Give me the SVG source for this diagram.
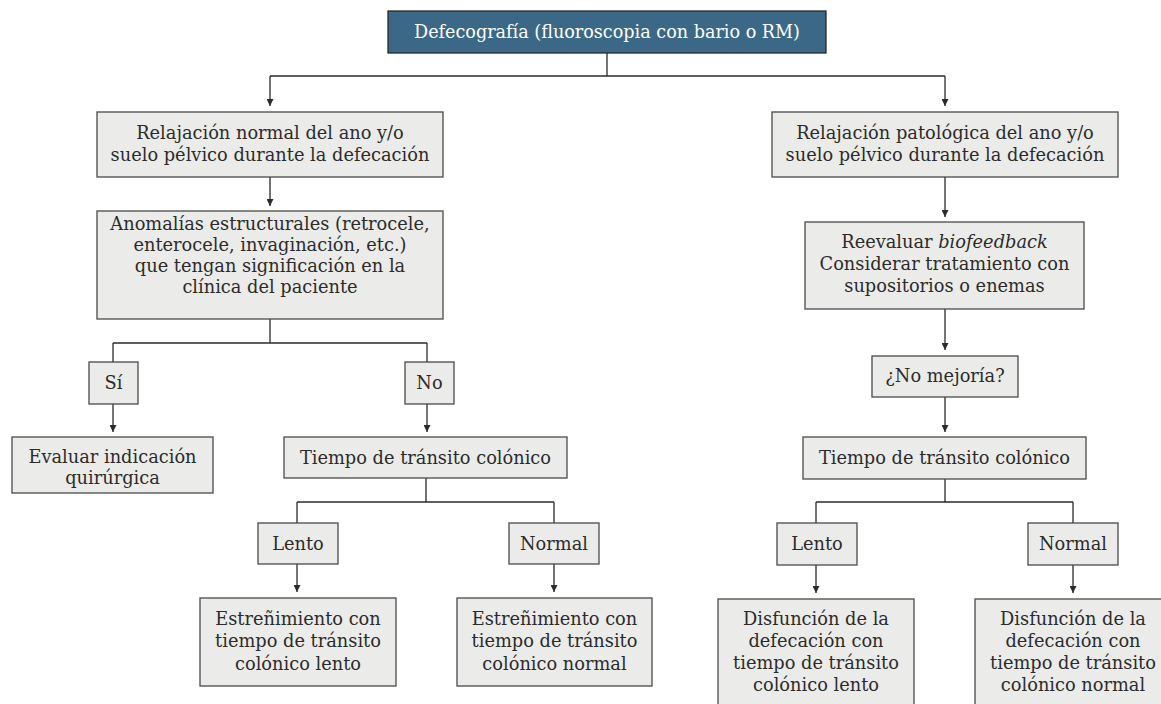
<svg xmlns="http://www.w3.org/2000/svg" width="1161" height="704" viewBox="0 0 1161 704">
<defs>
<style>
.box{fill:#ebebea;stroke:#4a4a4a;stroke-width:1.3}
.top{fill:#3a6886;stroke:#2a2a2a;stroke-width:1.3}
.t{font-family:"DejaVu Serif","Liberation Serif",serif;font-size:17.8px;fill:#2b2b2b;text-anchor:middle}
.tw{font-family:"DejaVu Serif","Liberation Serif",serif;font-size:17.6px;fill:#ffffff;text-anchor:middle}
.c{fill:none;stroke:#2b2b2b;stroke-width:1.3}
</style>
<marker id="ah" viewBox="0 0 8 8" refX="8" refY="4" markerWidth="7" markerHeight="7" markerUnits="userSpaceOnUse" orient="auto">
<path d="M0,0 L8,4 L0,8 z" fill="#2b2b2b"/>
</marker>
</defs>
<rect width="1161" height="704" fill="#ffffff"/>
<g id="connectors">
<path class="c" d="M607 53 V76 M270 76 H945"/>
<path class="c" d="M270 76 V106" marker-end="url(#ah)"/>
<path class="c" d="M945 76 V106" marker-end="url(#ah)"/>
<path class="c" d="M270 177 V206" marker-end="url(#ah)"/>
<path class="c" d="M270 319 V343 M113 343 H427 M113 343 V362 M427 343 V362"/>
<path class="c" d="M113 404 V432" marker-end="url(#ah)"/>
<path class="c" d="M427 404 V432" marker-end="url(#ah)"/>
<path class="c" d="M426 478 V502 M297 502 H554 M297 502 V523 M554 502 V523"/>
<path class="c" d="M297 564 V592" marker-end="url(#ah)"/>
<path class="c" d="M554 564 V592" marker-end="url(#ah)"/>
<path class="c" d="M945 177 V217" marker-end="url(#ah)"/>
<path class="c" d="M945 309 V350" marker-end="url(#ah)"/>
<path class="c" d="M945 397 V432" marker-end="url(#ah)"/>
<path class="c" d="M945 479 V502 M816 502 H1073 M816 502 V523 M1073 502 V523"/>
<path class="c" d="M816 565 V593" marker-end="url(#ah)"/>
<path class="c" d="M1073 565 V593" marker-end="url(#ah)"/>
</g>
<g id="n_top"><rect class="top" x="388" y="11" width="438" height="42"/><text class="tw" x="607" y="38">Defecografía (fluoroscopia con bario o RM)</text></g>
<g id="n_normal"><rect class="box" x="97" y="112" width="346" height="65"/><text class="t" x="270" y="139">Relajación normal del ano y/o</text><text class="t" x="270" y="161">suelo pélvico durante la defecación</text></g>
<g id="n_anom"><rect class="box" x="97" y="211" width="346" height="108"/><text class="t" x="270" y="230">Anomalías estructurales (retrocele,</text><text class="t" x="270" y="251">enterocele, invaginación, etc.)</text><text class="t" x="270" y="272">que tengan significación en la</text><text class="t" x="270" y="293">clínica del paciente</text></g>
<g id="n_si"><rect class="box" x="89" y="362" width="49" height="42"/><text class="t" x="113.5" y="389">Sí</text></g>
<g id="n_no"><rect class="box" x="405" y="362" width="49" height="42"/><text class="t" x="429.5" y="389">No</text></g>
<g id="n_eval"><rect class="box" x="12" y="437" width="201" height="56"/><text class="t" x="112.5" y="463">Evaluar indicación</text><text class="t" x="112.5" y="484">quirúrgica</text></g>
<g id="n_ttc1"><rect class="box" x="284" y="437" width="283" height="41"/><text class="t" x="425.5" y="464">Tiempo de tránsito colónico</text></g>
<g id="n_lento1"><rect class="box" x="258" y="523" width="80" height="41"/><text class="t" x="298" y="550">Lento</text></g>
<g id="n_normal1"><rect class="box" x="509" y="523" width="90" height="41"/><text class="t" x="554" y="550">Normal</text></g>
<g id="n_est_lento"><rect class="box" x="200" y="598" width="196" height="88"/><text class="t" x="298" y="625">Estreñimiento con</text><text class="t" x="298" y="647">tiempo de tránsito</text><text class="t" x="298" y="670">colónico lento</text></g>
<g id="n_est_normal"><rect class="box" x="457" y="598" width="195" height="88"/><text class="t" x="554.5" y="625">Estreñimiento con</text><text class="t" x="554.5" y="647">tiempo de tránsito</text><text class="t" x="554.5" y="670">colónico normal</text></g>
<g id="n_pato"><rect class="box" x="772" y="112" width="346" height="65"/><text class="t" x="945" y="139">Relajación patológica del ano y/o</text><text class="t" x="945" y="161">suelo pélvico durante la defecación</text></g>
<g id="n_reeval"><rect class="box" x="805" y="222" width="279" height="87"/><text class="t" x="944.5" y="248">Reevaluar <tspan font-style="italic">biofeedback</tspan></text><text class="t" x="944.5" y="270">Considerar tratamiento con</text><text class="t" x="944.5" y="292">supositorios o enemas</text></g>
<g id="n_nomej"><rect class="box" x="872" y="356" width="146" height="41"/><text class="t" x="945" y="382">¿No mejoría?</text></g>
<g id="n_ttc2"><rect class="box" x="803" y="437" width="283" height="42"/><text class="t" x="944.5" y="464">Tiempo de tránsito colónico</text></g>
<g id="n_lento2"><rect class="box" x="777" y="523" width="80" height="42"/><text class="t" x="817" y="550">Lento</text></g>
<g id="n_normal2"><rect class="box" x="1028" y="523" width="90" height="42"/><text class="t" x="1073" y="550">Normal</text></g>
<g id="n_dis_lento"><rect class="box" x="718" y="599" width="196" height="115"/><text class="t" x="816" y="625">Disfunción de la</text><text class="t" x="816" y="647">defecación con</text><text class="t" x="816" y="669">tiempo de tránsito</text><text class="t" x="816" y="691">colónico lento</text></g>
<g id="n_dis_normal"><rect class="box" x="975" y="599" width="196" height="115"/><text class="t" x="1073" y="625">Disfunción de la</text><text class="t" x="1073" y="647">defecación con</text><text class="t" x="1073" y="669">tiempo de tránsito</text><text class="t" x="1073" y="691">colónico normal</text></g>
</svg>
